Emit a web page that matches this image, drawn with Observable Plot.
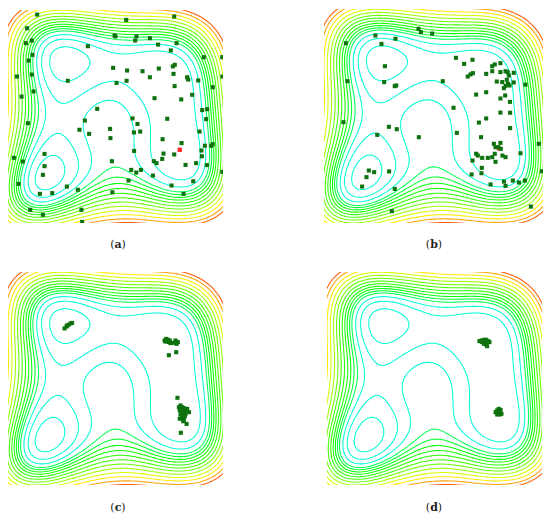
<!DOCTYPE html>
<html>
<head>
<meta charset="utf-8">
<script src="https://cdn.jsdelivr.net/npm/d3@7"></script>
<script src="https://cdn.jsdelivr.net/npm/@observablehq/plot@0.6"></script>
<style>
  html, body { margin: 0; padding: 0; background: #fff; }
  #root { position: relative; width: 550px; height: 521px; overflow: hidden; }
  .panel { position: absolute; }
  .lab { position: absolute; font-family: "DejaVu Serif", "Liberation Serif", serif; font-size: 11px; color: #222; transform: translateX(-50%); white-space: nowrap; }
  .lab b { font-weight: bold; }
</style>
</head>
<body>
<div id="root"></div>
<script>
// Contour thresholds (objective-function levels)
const levels = [35, 90, 140, 190, 225, 265, 310, 365, 430, 505, 595, 700, 820, 960, 1100];

// Objective landscape: Himmelblau-type surface on [-6, 6]^2 with a flatter right-hand valley
const himmel = (x, y) => (x * x + y - 11) ** 2 + (x + y * y - 7) ** 2;
const rightWeight = (x, y) => Math.exp(-((x - 3.3) ** 2) / 3.92 - (y * y) / 18);
const surface = (x, y) => {
  const w = rightWeight(x, y);
  return himmel(x, y) * (1 - 0.55 * w) + 55 * w;
};

// Panel (a): initial population
const aX = [-4.40,0.57,3.25,-4.96,-0.08,-0.03,1.14,1.07,1.89,-5.03,-4.70,-1.57,2.35,3.38,3.06,-4.66,4.90,5.93,-4.88,-0.16,0.62,1.48,2.39,3.17,3.28,3.21,3.97,4.03,-4.70,-5.53,5.94,-2.69,0.59,0.03,1.89,4.59,3.27,5.40,-4.60,-5.27,4.25,2.15,3.64,-1.05,4.81,5.09,5.03,0.92,1.20,2.86,-1.74,-4.92,-2.04,-0.33,1.00,1.35,-1.50,4.66,-0.31,2.60,3.66,4.96,5.31,5.40,1.01,4.77,2.65,3.25,-3.99,-5.70,2.58,4.79,2.11,2.26,-0.23,-5.20,-3.99,3.88,4.47,5.07,0.85,1.13,1.39,2.06,-4.08,5.93,0.70,4.31,-5.44,-2.74,3.10,-2.13,-4.25,-3.56,-0.20,3.77,-4.79,-1.93,-4.08,-1.89];
const aY = [5.77,5.47,5.66,5.00,4.59,4.54,4.54,4.31,4.44,4.16,4.31,3.99,4.08,4.16,3.75,3.50,3.37,3.37,3.18,2.77,2.62,2.58,2.73,2.85,2.94,2.43,2.24,2.11,2.39,2.28,2.28,2.04,2.04,1.92,2.24,2.06,1.74,1.68,1.44,1.15,1.25,1.06,0.99,0.46,0.39,0.44,-0.12,-0.08,-0.39,-0.10,-0.20,-0.35,-0.72,-0.67,-0.87,-0.82,-0.95,-0.82,-1.19,-1.25,-1.47,-1.62,-1.62,-1.53,-1.91,-1.89,-2.06,-2.11,-2.08,-2.30,-2.36,-2.21,-2.49,-2.60,-2.49,-2.51,-2.77,-2.70,-2.60,-2.71,-2.98,-3.13,-2.98,-3.30,-3.26,-3.09,-3.58,-3.62,-3.77,-3.92,-3.86,-4.10,-4.33,-4.29,-4.24,-4.33,-5.23,-5.23,-5.51,-5.91];
const aBest = [{x: 3.56, y: -1.85}];

// Panel (b)
const bX = [-0.85,-0.72,-0.10,-3.21,-2.11,-4.83,-2.88,1.20,1.65,2.11,3.64,3.19,3.33,2.13,2.00,1.85,2.86,3.19,3.64,3.92,4.03,4.10,4.37,-2.69,-4.74,-2.73,-2.15,-2.07,0.48,3.44,3.74,3.99,4.05,3.92,4.14,4.37,5.01,3.83,2.86,2.31,3.90,3.64,4.16,1.07,3.64,4.17,2.86,2.46,-4.96,-2.47,-2.04,4.17,1.25,-3.11,2.58,-0.83,5.74,3.64,3.28,3.37,3.52,3.66,3.33,3.75,3.92,4.74,2.31,2.40,2.64,2.95,3.19,2.11,3.37,2.62,5.91,-2.46,-3.57,-3.28,-3.70,2.06,2.60,3.83,4.32,4.65,4.98,3.10,3.92,-3.94,-2.15,-2.31,5.31];
const bY = [4.92,4.73,4.65,4.54,4.36,4.11,4.07,3.29,2.95,3.18,2.99,2.82,2.92,2.43,2.36,2.24,2.39,2.54,2.49,2.54,2.49,2.30,2.45,2.82,1.98,1.93,1.70,1.74,1.98,1.96,1.93,2.06,1.83,1.72,1.74,1.91,1.79,1.59,1.36,1.23,1.18,1.01,0.82,0.49,0.22,0.21,-0.11,-0.34,-0.32,-0.58,-0.71,-0.65,-0.92,-1.03,-1.16,-1.16,-1.53,-1.48,-1.53,-1.72,-1.72,-1.81,-2.09,-2.19,-2.28,-2.06,-2.09,-2.19,-2.32,-2.32,-2.28,-2.47,-2.54,-2.88,-3.07,-3.08,-3.03,-3.12,-3.40,-3.25,-3.18,-3.65,-3.59,-3.70,-3.59,-3.81,-3.89,-3.93,-4.06,-5.31,-5.05];
const bBest = [{x: 3.56, y: -1.80}];

// Panel (c)
const cX = [-2.87,-2.76,-2.65,-2.54,-2.45,-2.73,2.71,2.80,2.89,2.95,2.86,2.76,3.00,3.04,3.32,3.45,3.38,3.23,2.95,3.36,3.43,3.60,3.69,3.79,3.88,3.97,3.56,3.69,3.79,3.88,3.60,3.73,3.84,3.69,3.56,3.79,3.94,3.62,3.51,4.07,3.75];
const cY = [2.85,2.96,3.05,3.13,3.16,3.01,2.17,2.26,2.21,2.08,2.13,2.11,2.17,2.02,2.17,2.08,1.98,2.04,1.34,1.51,-1.06,-1.49,-1.59,-1.64,-1.74,-1.68,-1.77,-1.87,-1.87,-1.96,-2.00,-2.06,-2.11,-2.19,-2.24,-2.30,-2.53,-3.03,-1.59,-1.87,-2.38];

// Panel (d)
const dX = [2.48,2.60,2.73,2.86,2.97,3.04,2.78,2.63,2.86,2.91,2.73,3.38,3.47,3.56,3.66,3.53,3.62,3.47,3.71,3.56];
const dY = [2.13,2.17,2.21,2.21,2.13,2.08,2.08,2.08,1.94,1.85,1.98,-1.87,-1.77,-1.68,-1.74,-1.93,-2.00,-2.00,-1.96,-1.81];

const labels = ["a", "b", "c", "d"];

const toPts = (X, Y) => X.map((x, i) => ({x, y: Y[i]}));

const panels = [
  {pts: toPts(aX, aY), best: aBest, left: 8, top: 10, w: 215, h: 213},
  {pts: toPts(bX, bY), best: bBest, left: 324, top: 9, w: 219, h: 214},
  {pts: toPts(cX, cY), best: [], left: 8, top: 272, w: 215, h: 213},
  {pts: toPts(dX, dY), best: [], left: 327, top: 272, w: 215, h: 213}
];

const root = document.getElementById("root");

panels.forEach((p, i) => {
  const chart = Plot.plot({
    width: p.w,
    height: p.h,
    margin: 0,
    x: {domain: [-6, 6], axis: null},
    y: {domain: [-6, 6], axis: null},
    color: {
      type: "linear",
      domain: [140, 190, 265, 430, 700, 900, 1100],
      range: ["hsl(170,100%,50%)", "hsl(140,100%,50%)", "hsl(120,100%,50%)", "hsl(105,100%,50%)", "hsl(70,100%,50%)", "hsl(45,100%,50%)", "hsl(20,100%,52%)"],
      interpolate: d3.interpolateHsl,
      clamp: true
    },
    style: {background: "transparent"},
    marks: [
      Plot.contour({
        x1: -6.8, x2: 6.8, y1: -6.8, y2: 6.8,
        value: surface,
        thresholds: levels,
        stroke: "value",
        fill: "none",
        strokeWidth: 1.05,
        clip: true
      }),
      Plot.dot(p.best, {x: "x", y: "y", symbol: "square", r: 2.3, fill: "#ff2a2a", stroke: "none"}),
      Plot.dot(p.pts, {x: "x", y: "y", symbol: "square", r: 2.3, fill: "#0d720d", stroke: "none"}),
      ...(i === 0 ? [Plot.dot(p.best, {x: "x", y: "y", symbol: "square", r: 2.3, fill: "#ff2a2a", stroke: "none"})] : [])
    ]
  });
  const holder = document.createElement("div");
  holder.className = "panel";
  holder.style.left = p.left + "px";
  holder.style.top = p.top + "px";
  holder.appendChild(chart);
  root.appendChild(holder);

  const lab = document.createElement("div");
  lab.className = "lab";
  const cx = i % 2 === 0 ? 118 : 434;
  const cy = i < 2 ? 238 : 501;
  lab.style.left = cx + "px";
  lab.style.top = cy + "px";
  lab.innerHTML = "(<b>" + labels[i] + "</b>)";
  root.appendChild(lab);
});
</script>
</body>
</html>
